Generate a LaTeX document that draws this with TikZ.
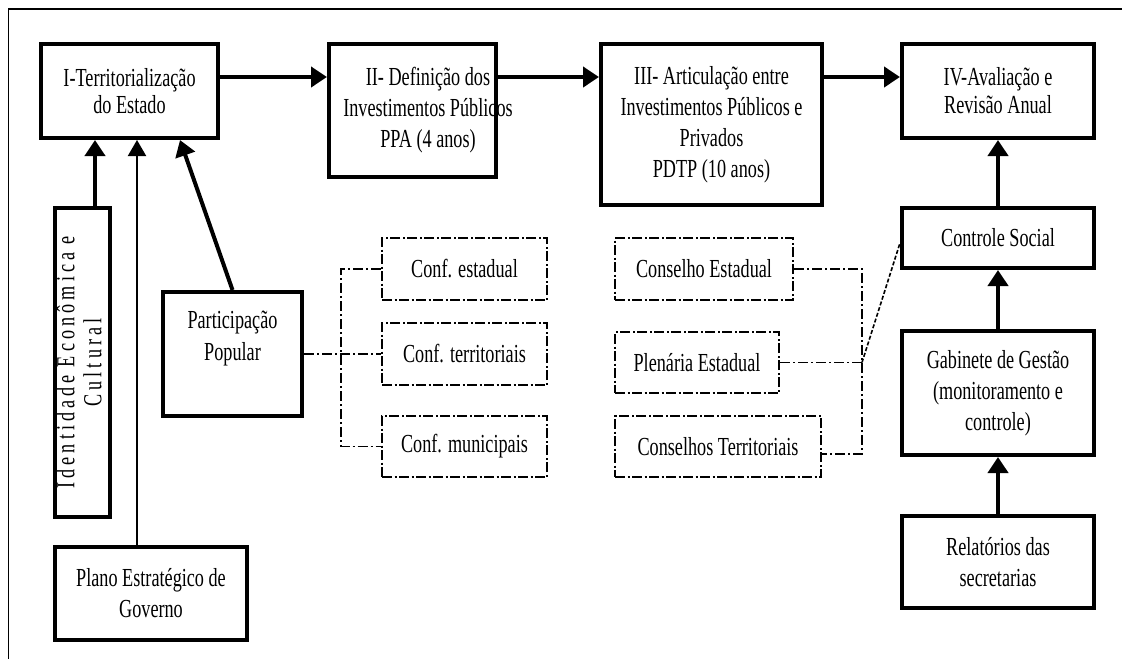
\documentclass[tikz,border=0pt]{standalone}
\usepackage{fontspec}
\setmainfont{Liberation Serif}[FakeStretch=0.70]
\usetikzlibrary{arrows.meta}
\makeatletter
\newcommand\lspaced[1]{\@tfor\@lsch:=#1\do{\@lsch\kern4.1pt}\unkern}
\makeatother
\tikzset{
  mainbox/.style={draw, line width=4pt, inner sep=0pt, align=center, font=\fontsize{26}{31}\selectfont},
  lbl/.style={inner sep=0pt, align=center, font=\fontsize{26}{31}\selectfont},
  dbox/.style={draw, line width=2.2pt, dash pattern=on 10pt off 2.5pt on 2pt off 2.5pt, inner sep=0pt, align=center, font=\fontsize{26}{31}\selectfont},
  arr/.style={line width=4pt, -{Triangle[length=16pt,width=20pt]}},
  arrthin/.style={line width=2pt, -{Triangle[length=16pt,width=18pt]}},
  dd/.style={line width=1.6pt, dash pattern=on 10pt off 3pt on 2pt off 3pt},
  shortdash/.style={line width=1.6pt, dash pattern=on 4pt off 2pt},
  frame/.style={line width=1.5pt},
}
\begin{document}
\begin{tikzpicture}[x=1pt,y=-1pt]
\useasboundingbox (0,0) rectangle (1122,659);
% outer frame
\draw[frame] (1122,9) -- (8.5,9) -- (8.5,659);

% main boxes
\node[mainbox, minimum width=177, minimum height=94, font=\fontsize{26}{27}\selectfont] (I) at (129.5,91) {I-Territorialização\\do Estado};
\node[mainbox, minimum width=167, minimum height=133] (II) at (412.5,110.5) {};
\node[lbl] (IIlbl) at (428,110) {II- Definição dos\\Investimentos Públicos\\PPA (4 anos)};
\node[mainbox, minimum width=221, minimum height=161] (III) at (711.5,124.5) {III- Articulação entre\\Investimentos Públicos e\\Privados\\PDTP (10 anos)};
\node[mainbox, minimum width=192, minimum height=94, font=\fontsize{26}{28}\selectfont] (IV) at (998,91) {IV-Avaliação e\\Revisão Anual};

% left column
\node[mainbox, minimum width=55, minimum height=309] (id) at (82.5,362.5)
  {\rotatebox{90}{\fontsize{26}{27}\selectfont\begin{tabular}{@{}c@{}}\lspaced{Identidade}\hspace{8pt}\lspaced{Econômica}\hspace{8pt}\lspaced{e}\\\lspaced{Cultural}\end{tabular}}};
\node[mainbox, minimum width=192, minimum height=93] (plano) at (151,593.5) {Plano Estratégico de\\Governo};
\node[mainbox, minimum width=139, minimum height=124] (part) at (232.5,354) {};
\node[lbl, font=\fontsize{26}{32}\selectfont] (partlbl) at (232.5,339) {Participação\\Popular};

% conferences
\node[dbox, minimum width=165, minimum height=62] (ce) at (464.5,269) {Conf. estadual};
\node[dbox, minimum width=165, minimum height=62] (ct) at (464.5,354) {Conf. territoriais};
\node[dbox, minimum width=165, minimum height=61] (cm) at (464.5,446.5) {Conf. municipais};

% councils
\node[dbox, minimum width=178, minimum height=62] (cse) at (704,269) {Conselho Estadual};
\node[dbox, minimum width=164, minimum height=61] (ple) at (697,362.5) {Plenária Estadual};
\node[dbox, minimum width=206, minimum height=61] (ctr) at (718,446.5) {Conselhos Territoriais};

% right column
\node[mainbox, minimum width=192, minimum height=60] (ctrl) at (998,238) {Controle Social};
\node[mainbox, minimum width=192, minimum height=124] (gab) at (998,393) {Gabinete de Gestão\\(monitoramento e\\controle)};
\node[mainbox, minimum width=192, minimum height=92] (rel) at (998,562) {Relatórios das\\secretarias};

% top chain arrows
\draw[arr] ([yshift=14pt]I.east) -- ([yshift=14pt]I.east -| II.west);
\draw[arr] ([yshift=33.5pt]II.east) -- ([yshift=33.5pt]II.east -| III.west);
\draw[arr] ([yshift=47.5pt]III.east) -- ([yshift=47.5pt]III.east -| IV.west);

% arrows into I
\draw[arr] ([xshift=12.5pt]id.north) -- ([xshift=12.5pt]id.north |- I.south);
\draw[arrthin] ([xshift=-14pt]plano.north) -- ([xshift=-14pt]plano.north |- I.south);
\draw[arr] (part.north) -- ([xshift=50.5pt]I.south);

% right column arrows
\draw[arr] (ctrl.north) -- (IV.south);
\draw[arr] (gab.north) -- (ctrl.south);
\draw[arr] (rel.north) -- (gab.south);

% participation connectors
\coordinate (pj) at (341,0);
\draw[dd] (part.east) -- (ct.west);
\draw[dd] (ce.west) -- (ce.west -| pj) -- (cm.west -| pj) -- (cm.west);

% council connectors
\coordinate (cj) at (862,0);
\draw[dd] (cse.east) -- (cse.east -| cj) -- ([yshift=-7.5pt]ctr.east -| cj) -- ([yshift=-7.5pt]ctr.east);
\draw[dd] (ple.east) -- (ple.east -| cj) coordinate (jn);
\draw[shortdash] (jn) -- ([yshift=-5pt]ctrl.west);
\end{tikzpicture}
\end{document}
